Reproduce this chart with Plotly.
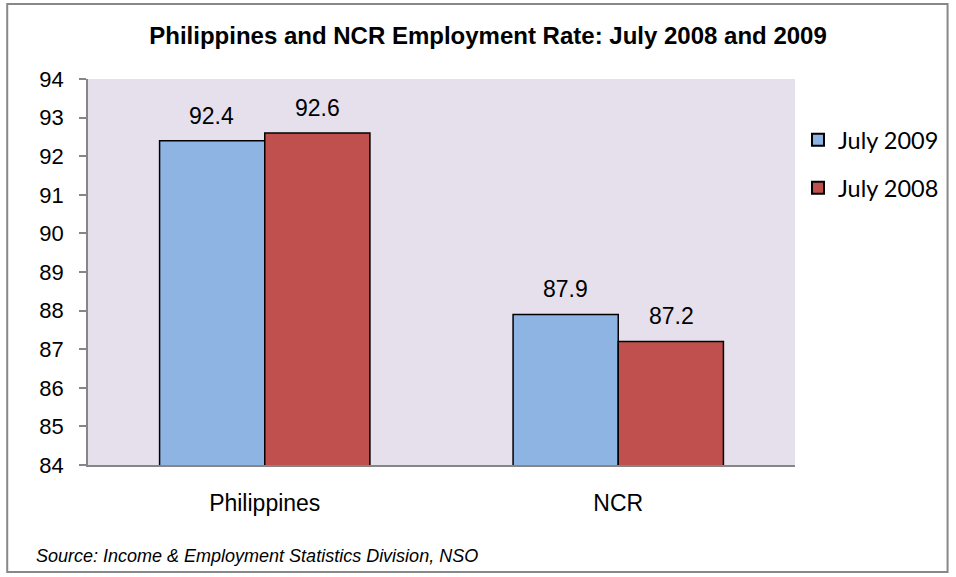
import plotly.graph_objects as go

categories = ["Philippines", "NCR"]
july_2009 = [92.4, 87.9]
july_2008 = [92.6, 87.2]
series_names = ["July 2009", "July 2008"]

W, H = 956, 577
L, R, T, B = 88, 797, 79, 465
pw, ph = R - L, B - T

def px(x):
    return (x - L) / pw

def py(y):
    return (B - y) / ph

FONT = "Liberation Sans, Arial"
colors = ["#8DB4E2", "#C0504D"]
legends = ["legend", "legend2"]

fig = go.Figure()
for i, (name, vals) in enumerate([(series_names[0], july_2009), (series_names[1], july_2008)]):
    fig.add_trace(go.Bar(
        x=categories, y=vals, name=name, legend=legends[i],
        marker=dict(color=colors[i], line=dict(color="#000000", width=1.5)),
    ))
    for c, v in zip(categories, vals):
        fig.add_annotation(x=c, y=v, text=f"{v:.1f}", showarrow=False,
                           xshift=(-53 if i == 0 else 53), yshift=25,
                           yanchor="middle", xanchor="center",
                           font=dict(family=FONT, size=23, color="#000000"))

legend_common = dict(xanchor="left", yanchor="middle",
                     font=dict(family="Lato, Open Sans", size=23.5, color="#000000"),
                     itemsizing="constant", bgcolor="rgba(0,0,0,0)")

fig.update_layout(
    width=W, height=H,
    margin=dict(l=L, r=W - R, t=T, b=H - B),
    paper_bgcolor="white", plot_bgcolor="#E6E0EC",
    barmode="group", bargap=0.405, bargroupgap=0,
    showlegend=True,
    legend=dict(x=px(800), y=py(140), **legend_common),
    legend2=dict(x=px(800), y=py(188), **legend_common),
    title=dict(text="<b>Philippines and NCR Employment Rate: July 2008 and 2009</b>",
               x=488 / W, xanchor="center", xref="container",
               y=1 - 36 / H, yanchor="middle", yref="container",
               font=dict(family=FONT, size=24, color="#000000")),
    font=dict(family=FONT, color="#000000"),
)
fig.update_yaxes(range=[84, 94], dtick=1, ticks="outside", ticklen=7, tickcolor="#868686",
                 tickwidth=1.5,
                 showline=True, linecolor="#868686", linewidth=1.5, showgrid=False,
                 zeroline=False, tickfont=dict(size=22, family=FONT),
                 ticklabelstandoff=11)
fig.update_xaxes(showline=True, linecolor="#868686", linewidth=1.5, ticks="",
                 tickfont=dict(size=23, family=FONT),
                 ticklabelstandoff=17)

# outer border
fig.add_shape(type="rect", xref="paper", yref="paper",
              x0=px(7), x1=px(950), y0=py(572), y1=py(4),
              line=dict(color="#888888", width=2), fillcolor="rgba(0,0,0,0)", layer="below")

fig.add_annotation(text="<i>Source: Income &amp; Employment Statistics Division, NSO</i>",
                   xref="paper", yref="paper", x=px(34), y=py(556),
                   xanchor="left", yanchor="middle", showarrow=False,
                   font=dict(family=FONT, size=18, color="#000000"))

fig.write_html("out.html",
               config={"displayModeBar": False},
               post_script="document.body.style.margin='0';document.body.style.overflow='hidden';")
